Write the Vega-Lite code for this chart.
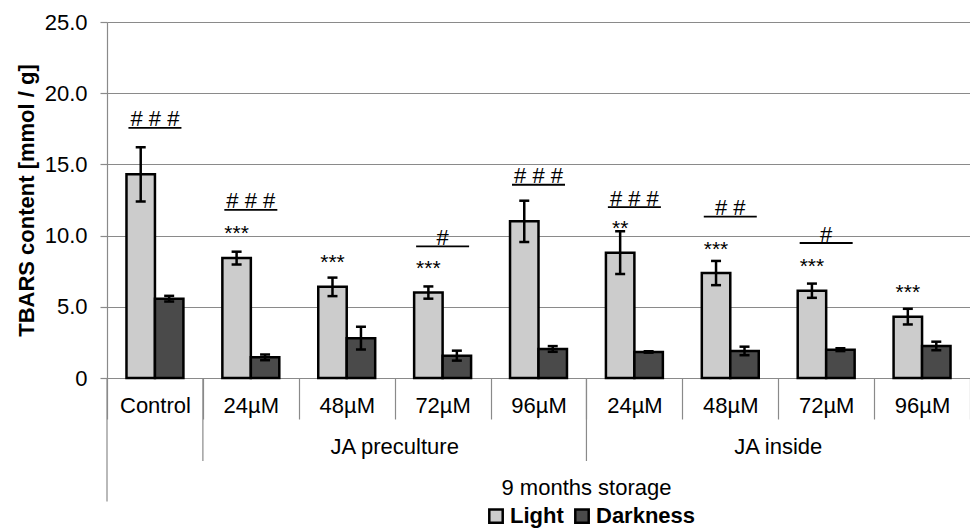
{
  "$schema": "https://vega.github.io/schema/vega-lite/v6.json",
  "width": 863,
  "height": 356,
  "autosize": {"type": "none"},
  "padding": {"left": 107, "top": 22, "right": 0, "bottom": 150},
  "background": "white",
  "config": {
    "font": "Liberation Sans",
    "view": {"stroke": null}
  },
  "datasets": {
    "bars": [
      {"cat": "Control", "series": "Light", "mean": 14.3, "sd": 1.9},
      {"cat": "Control", "series": "Darkness", "mean": 5.57, "sd": 0.2},
      {"cat": "JA preculture 24µM", "series": "Light", "mean": 8.42, "sd": 0.45},
      {"cat": "JA preculture 24µM", "series": "Darkness", "mean": 1.45, "sd": 0.2},
      {"cat": "JA preculture 48µM", "series": "Light", "mean": 6.4, "sd": 0.65},
      {"cat": "JA preculture 48µM", "series": "Darkness", "mean": 2.8, "sd": 0.8},
      {"cat": "JA preculture 72µM", "series": "Light", "mean": 6.0, "sd": 0.43},
      {"cat": "JA preculture 72µM", "series": "Darkness", "mean": 1.57, "sd": 0.35},
      {"cat": "JA preculture 96µM", "series": "Light", "mean": 11.0, "sd": 1.45},
      {"cat": "JA preculture 96µM", "series": "Darkness", "mean": 2.04, "sd": 0.2},
      {"cat": "JA inside 24µM", "series": "Light", "mean": 8.8, "sd": 1.5},
      {"cat": "JA inside 24µM", "series": "Darkness", "mean": 1.83, "sd": 0.05},
      {"cat": "JA inside 48µM", "series": "Light", "mean": 7.37, "sd": 0.85},
      {"cat": "JA inside 48µM", "series": "Darkness", "mean": 1.9, "sd": 0.3},
      {"cat": "JA inside 72µM", "series": "Light", "mean": 6.13, "sd": 0.5},
      {"cat": "JA inside 72µM", "series": "Darkness", "mean": 1.99, "sd": 0.1},
      {"cat": "JA inside 96µM", "series": "Light", "mean": 4.31, "sd": 0.55},
      {"cat": "JA inside 96µM", "series": "Darkness", "mean": 2.25, "sd": 0.3}
    ],
    "stars": [
      {"cat": "JA preculture 24µM", "series": "Light", "text": "***", "level": 9.69},
      {"cat": "JA preculture 48µM", "series": "Light", "text": "***", "level": 7.68},
      {"cat": "JA preculture 72µM", "series": "Light", "text": "***", "level": 7.23},
      {"cat": "JA inside 24µM", "series": "Light", "text": "**", "level": 10.04},
      {"cat": "JA inside 48µM", "series": "Light", "text": "***", "level": 8.57},
      {"cat": "JA inside 72µM", "series": "Light", "text": "***", "level": 7.39},
      {"cat": "JA inside 96µM", "series": "Light", "text": "***", "level": 5.57}
    ],
    "hashes": [
      {"cat": "Control", "text": "# # #", "level": 17.7, "line": 17.56},
      {"cat": "JA preculture 24µM", "text": "# # #", "level": 11.91, "line": 11.8},
      {"cat": "JA preculture 72µM", "text": "#", "level": 9.34, "line": 9.25},
      {"cat": "JA preculture 96µM", "text": "# # #", "level": 13.67, "line": 13.57},
      {"cat": "JA inside 24µM", "text": "# # #", "level": 12.1, "line": 12.0},
      {"cat": "JA inside 48µM", "text": "# #", "level": 11.45, "line": 11.33},
      {"cat": "JA inside 72µM", "text": "#", "level": 9.57, "line": 9.48}
    ],
    "groupLabels": [
      {"cat": "JA preculture 72µM", "label": "JA preculture"},
      {"cat": "JA inside 72µM", "label": "JA inside"}
    ],
    "groupStarts": [
      {"cat": "JA preculture 24µM"},
      {"cat": "JA inside 24µM"}
    ],
    "outerEdge": [
      {"cat": "Control"}
    ]
  },
  "layer": [
    {
      "data": {"name": "bars"},
      "mark": {"type": "bar", "stroke": "black", "strokeWidth": 2.5},
      "encoding": {
        "x": {
          "field": "cat",
          "type": "nominal",
          "sort": null,
          "scale": {
            "domain": ["Control", "JA preculture 24µM", "JA preculture 48µM", "JA preculture 72µM", "JA preculture 96µM", "JA inside 24µM", "JA inside 48µM", "JA inside 72µM", "JA inside 96µM"],
            "paddingInner": 0,
            "paddingOuter": 0
          },
          "axis": {
            "title": "9 months storage",
            "tickBand": "extent",
            "tickSize": 41,
            "tickColor": "#8a8a8a",
            "tickWidth": 1.2,
            "domainColor": "#8a8a8a",
            "domainWidth": 1.2,
            "labelAngle": 0,
            "labelFontSize": 22,
            "labelColor": "black",
            "labelBaseline": "middle",
            "labelPadding": -14,
            "labelExpr": "isValid(datum.value) ? replace(replace(datum.value, 'JA preculture ', ''), 'JA inside ', '') : ''",
            "titleFontSize": 22,
            "titleFontWeight": "normal",
            "titleColor": "black",
            "titleX": 479,
            "titleY": 109,
            "titleAlign": "center",
            "titleBaseline": "middle"
          }
        },
        "xOffset": {
          "field": "series",
          "type": "nominal",
          "sort": null,
          "scale": {"domain": ["Light", "Darkness"], "paddingInner": 0, "paddingOuter": 0.684}
        },
        "y": {
          "field": "mean",
          "type": "quantitative",
          "title": "TBARS content [mmol / g]",
          "scale": {"domain": [0, 25], "nice": false, "zero": true},
          "axis": {
            "title": "TBARS content [mmol / g]",
            "values": [0, 5, 10, 15, 20, 25],
            "grid": true,
            "gridColor": "#8a8a8a",
            "gridWidth": 1.2,
            "tickSize": 7,
            "tickColor": "#8a8a8a",
            "tickWidth": 1.2,
            "domainColor": "#8a8a8a",
            "domainWidth": 1.2,
            "labelFontSize": 22,
            "labelColor": "black",
            "labelPadding": 13,
            "labelExpr": "datum.value == 0 ? '0' : format(datum.value, '.1f')",
            "titleFontSize": 22,
            "titleFontWeight": "bold",
            "titleColor": "black",
            "titlePadding": 6
          }
        },
        "color": {
          "field": "series",
          "type": "nominal",
          "sort": null,
          "scale": {"domain": ["Light", "Darkness"], "range": ["#cccccc", "#4a4a4a"]},
          "legend": {
            "title": null,
            "orient": "none",
            "direction": "horizontal",
            "legendX": 378,
            "legendY": 483,
            "symbolType": "square",
            "symbolSize": 180,
            "symbolStrokeColor": "black",
            "symbolStrokeWidth": 2.5,
            "symbolOpacity": 1,
            "labelFontSize": 22,
            "labelFontWeight": "bold",
            "labelColor": "black",
            "labelOffset": 3,
            "columnPadding": 6
          }
        }
      }
    },
    {
      "data": {"name": "bars"},
      "mark": {
        "type": "errorbar",
        "color": "black",
        "ticks": {"size": 10, "thickness": 2.5, "color": "black", "opacity": 1},
        "rule": {"strokeWidth": 2.5, "color": "black"}
      },
      "encoding": {
        "x": {"field": "cat", "type": "nominal", "sort": null},
        "xOffset": {"field": "series", "type": "nominal", "sort": null},
        "y": {"field": "mean", "type": "quantitative", "title": "TBARS content [mmol / g]"},
        "yError": {"field": "sd"}
      }
    },
    {
      "data": {"name": "stars"},
      "mark": {"type": "text", "fontSize": 21, "baseline": "alphabetic", "align": "center", "color": "black"},
      "encoding": {
        "x": {"field": "cat", "type": "nominal", "sort": null},
        "xOffset": {"field": "series", "type": "nominal", "sort": null},
        "y": {"field": "level", "type": "quantitative", "title": "TBARS content [mmol / g]"},
        "text": {"field": "text"}
      }
    },
    {
      "data": {"name": "hashes"},
      "mark": {"type": "text", "fontSize": 22, "baseline": "alphabetic", "align": "center", "color": "black"},
      "encoding": {
        "x": {"field": "cat", "type": "nominal", "sort": null},
        "y": {"field": "level", "type": "quantitative", "title": "TBARS content [mmol / g]"},
        "text": {"field": "text"}
      }
    },
    {
      "data": {"name": "hashes"},
      "mark": {"type": "tick", "size": 53, "thickness": 1.8, "color": "black", "opacity": 1},
      "encoding": {
        "x": {"field": "cat", "type": "nominal", "sort": null},
        "y": {"field": "line", "type": "quantitative", "title": "TBARS content [mmol / g]"}
      }
    },
    {
      "data": {"name": "groupStarts"},
      "mark": {"type": "rule", "color": "#8a8a8a", "strokeWidth": 1.2},
      "encoding": {
        "x": {"field": "cat", "type": "nominal", "sort": null, "bandPosition": 0},
        "y": {"datum": 0},
        "y2": {"datum": -5.83}
      }
    },
    {
      "data": {"name": "outerEdge"},
      "mark": {"type": "rule", "color": "#8a8a8a", "strokeWidth": 1.2},
      "encoding": {
        "x": {"field": "cat", "type": "nominal", "sort": null, "bandPosition": 0},
        "y": {"datum": 0},
        "y2": {"datum": -8.68}
      }
    },
    {
      "data": {"name": "groupLabels"},
      "mark": {"type": "text", "fontSize": 22, "baseline": "middle", "align": "center", "color": "black"},
      "encoding": {
        "x": {"field": "cat", "type": "nominal", "sort": null, "bandPosition": 0},
        "y": {"datum": -4.85},
        "text": {"field": "label"}
      }
    }
  ]
}
